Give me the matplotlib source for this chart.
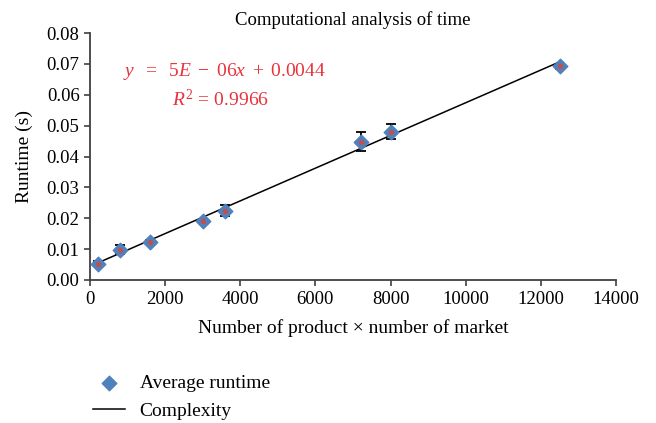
import numpy as np
import matplotlib
matplotlib.use('Agg')
import matplotlib.pyplot as plt

plt.rcParams['font.family'] = ['Liberation Serif', 'DejaVu Serif']
plt.rcParams['mathtext.fontset'] = 'custom'
plt.rcParams['mathtext.rm'] = 'Liberation Serif'
plt.rcParams['mathtext.it'] = 'Liberation Serif:italic'

# data
sizes = [200, 800, 1600, 3000, 3600, 7200, 8000, 12500]
runtimes = [0.0052, 0.0098, 0.0123, 0.0192, 0.0225, 0.0448, 0.0480, 0.0692]
errors = [0.0008, 0.0014, 0.0008, 0.0006, 0.0018, 0.0030, 0.0024, 0.0008]
x_ticks = [0, 2000, 4000, 6000, 8000, 10000, 12000, 14000]
y_ticks = [0.00, 0.01, 0.02, 0.03, 0.04, 0.05, 0.06, 0.07, 0.08]

fig = plt.figure(figsize=(6.56, 4.23), dpi=100)
ax = fig.add_axes([90 / 656, 1 - 280 / 423, 526 / 656, 247 / 423])

slope, intercept = np.polyfit(sizes, runtimes, 1)
fit_x = np.array([sizes[0], sizes[-1]])
line, = ax.plot(fit_x, slope * fit_x + intercept, color='black', lw=1.1, zorder=2)

ax.errorbar(sizes, runtimes, yerr=errors, fmt='none', ecolor='black',
            elinewidth=1.3, capsize=3.5, capthick=1.3, zorder=3)
pts = ax.scatter(sizes, runtimes, marker='D', s=55, color='#4F81BD', zorder=4)
ax.scatter(sizes, runtimes, marker='o', s=8, color='#C0504D', zorder=5)

ax.set_xlim(0, 14000)
ax.set_ylim(0, 0.08)
ax.set_xticks(x_ticks)
ax.set_yticks(y_ticks)
ax.set_yticklabels(['%.2f' % v for v in y_ticks])
ax.tick_params(direction='out', length=4, width=1.2, color='#404040',
               labelsize=13.5, colors='black')
ax.tick_params(axis='x', pad=4)
for s in ['top', 'right']:
    ax.spines[s].set_visible(False)
for s in ['left', 'bottom']:
    ax.spines[s].set_color('#404040')
    ax.spines[s].set_linewidth(1.3)

ax.set_title('Computational analysis of time', fontsize=13.5, pad=6)
ax.set_xlabel('Number of product \u00d7 number of market', fontsize=14, labelpad=8)
ax.set_ylabel('Runtime (s)', fontsize=14, labelpad=10)

ax.text(0.063, 0.845, r'$y\ \ =\ \ 5E\ -\ 06x\ +\ 0.0044$', transform=ax.transAxes,
        color='#E8323C', fontsize=14, ha='left', va='center')
ax.text(0.156, 0.73, r'$R^2\, =\, \mathrm{0.9966}$', transform=ax.transAxes,
        color='#E8323C', fontsize=14, ha='left', va='center')

fig.legend([pts, line], ['Average runtime', 'Complexity'], loc='upper left',
           bbox_to_anchor=(93 / 656, 1 - 374 / 423), frameon=False, fontsize=14,
           handlelength=1.65, handletextpad=0.75, labelspacing=0.55,
           borderaxespad=0, borderpad=0)

fig.savefig('out.png', dpi=100)
